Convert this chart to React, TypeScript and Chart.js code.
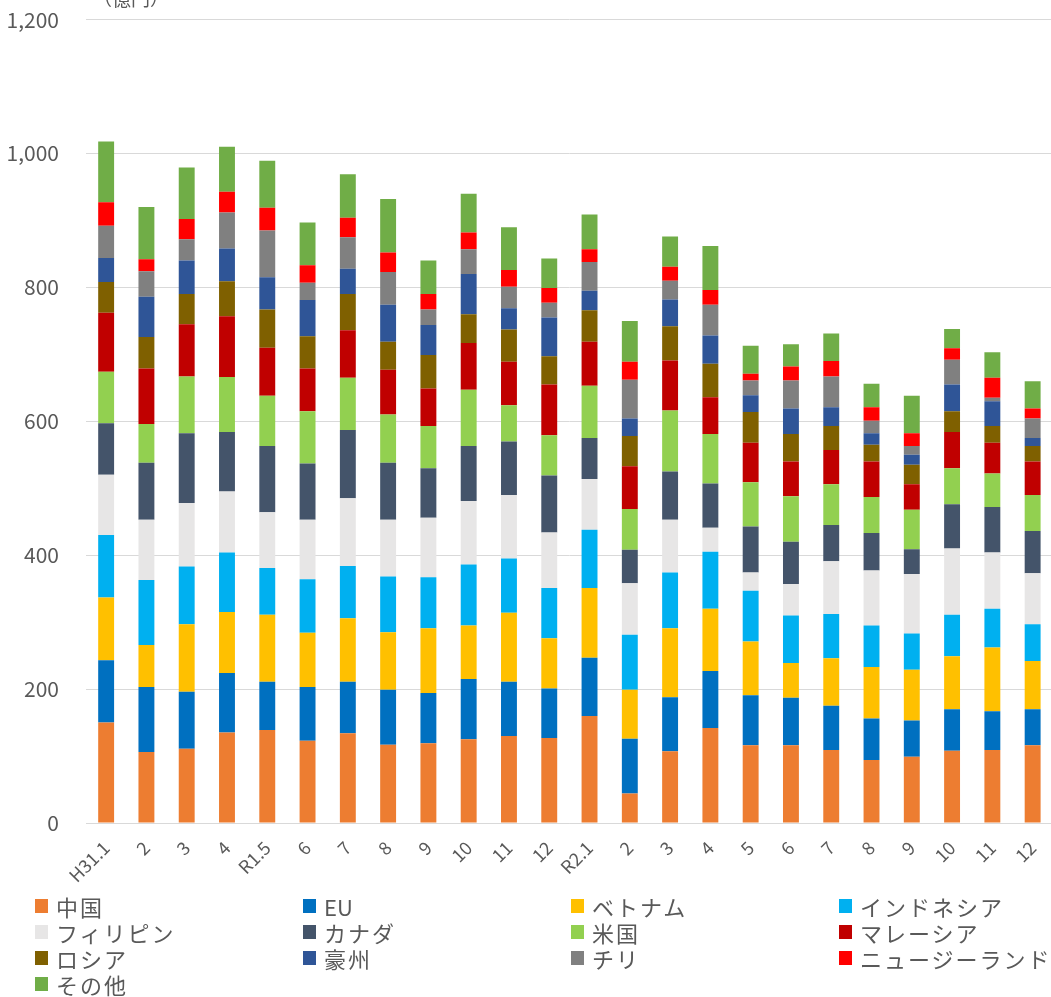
import React, { useEffect, useRef } from "react";
import { Chart, registerables } from "chart.js";

Chart.register(...registerables);

const categories = ["H31.1","2","3","4","R1.5","6","7","8","9","10","11","12","R2.1","2","3","4","5","6","7","8","9","10","11","12"];

const china = [150,106,111,135,139,123,134,117,119,125,130,127,160,44,107,142,116,116,109,94,99,108,109,116];
const eu = [93,97,85,89,72,80,77,82,75,90,81,74,87,82,81,85,75,71,66,62,54,62,58,54];
const vietnam = [94,63,101,91,100,81,95,86,97,80,103,75,104,73,103,93,80,52,71,77,76,79,95,72];
const indonesia = [93,97,86,89,70,80,78,83,76,91,81,75,87,82,83,85,76,71,66,62,54,62,58,55];
const philippines = [90,90,95,91,83,89,101,85,89,95,95,83,76,77,79,36,27,47,79,82,89,99,84,76];
const canada = [77,85,104,89,99,84,102,85,74,82,80,85,61,50,72,66,69,63,54,56,37,66,68,63];
const usa = [77,58,85,82,75,78,78,72,63,84,54,60,78,61,91,74,66,68,61,54,59,54,50,54];
const malaysia = [88,83,78,91,72,64,71,67,56,70,65,76,66,64,75,55,59,52,51,53,38,54,46,50];
const russia = [46,47,45,52,57,48,54,42,50,43,48,42,47,45,51,50,46,41,36,25,29,31,25,23];
const australia = [36,60,50,49,48,54,38,55,45,60,32,58,29,26,40,42,25,38,28,17,15,40,37,12];
const chile = [48,38,32,54,70,26,47,49,23,37,32,22,43,58,28,46,22,42,46,19,13,37,5,29];
const nz = [35,18,30,31,34,26,29,29,23,25,25,22,19,27,21,22,10,21,23,20,19,17,30,15];
const other = [91,78,77,67,70,64,65,80,50,58,64,44,52,61,45,66,42,33,41,35,56,29,38,41];

const seriesNames = ["中国","EU","ベトナム","インドネシア","フィリピン","カナダ","米国","マレーシア","ロシア","豪州","チリ","ニュージーランド","その他"];
const seriesColors = ["#ED7D31","#0070C0","#FFC000","#00B0F0","#E7E6E6","#44546A","#92D050","#C00000","#7F6000","#2F5597","#808080","#FF0000","#70AD47"];
const seriesData = [china, eu, vietnam, indonesia, philippines, canada, usa, malaysia, russia, australia, chile, nz, other];

const yTicksMax = 1200;
const yStep = 200;
const unitLabel = "（億円）";
const FONT = "'Noto Sans CJK JP', 'Noto Sans', sans-serif";
const TEXT = "#595959";
const SHIFT = 20;

export default function App() {
  const ref = useRef<HTMLCanvasElement | null>(null);

  useEffect(() => {
    document.documentElement.style.overflow = "hidden";
    document.body.style.overflow = "hidden";
    if (!ref.current) return;
    const unitPlugin = {
      id: "unitLabel",
      afterDraw(chart: any) {
        const ctx = chart.ctx;
        ctx.save();
        ctx.font = `19px ${FONT}`;
        ctx.fillStyle = TEXT;
        ctx.textBaseline = "bottom";
        ctx.textAlign = "left";
        ctx.fillText(unitLabel, 93, 8 + SHIFT);
        ctx.restore();
      },
    };
    const chart = new Chart(ref.current, {
      type: "bar",
      data: {
        labels: categories,
        datasets: seriesNames.map((n, i) => ({
          label: n,
          data: seriesData[i],
          backgroundColor: seriesColors[i],
          borderWidth: 0,
          categoryPercentage: 1,
          barPercentage: 0.395,
        })),
      },
      options: {
        animation: false,
        responsive: false,
        layout: { padding: { left: 6, top: 2, right: 4, bottom: 0 } },
        plugins: { legend: { display: false }, tooltip: { enabled: false } },
        scales: {
          x: {
            stacked: true,
            grid: { display: false, drawTicks: false },
            border: { display: true, color: "#D9D9D9", width: 1 },
            ticks: {
              color: TEXT,
              font: { size: 18, family: FONT },
              minRotation: 45,
              maxRotation: 45,
              padding: 14,
              autoSkip: false,
            },
            afterFit: (s: any) => { s.height = 72; },
          },
          y: {
            stacked: true,
            min: 0,
            max: yTicksMax,
            grid: { color: "#D9D9D9", drawTicks: false },
            border: { display: false },
            ticks: {
              stepSize: yStep,
              color: TEXT,
              font: { size: 21, family: FONT },
              padding: 27,
              callback: (v: any) => Number(v).toLocaleString("en-US"),
            },
            afterFit: (s: any) => { s.width = 80; },
          },
        },
      },
      plugins: [unitPlugin],
    });
    return () => chart.destroy();
  }, []);

  return (
    <div style={{ position: "absolute", left: 0, top: 0, width: 1062, height: 997, overflow: "hidden", fontFamily: FONT }}>
      <canvas ref={ref} width={1062} height={895 + SHIFT} style={{ position: "absolute", left: 0, top: -SHIFT }} />
      <div
        style={{
          position: "absolute",
          left: 35,
          top: 893,
          display: "grid",
          gridTemplateColumns: "repeat(4, 268px)",
          gridAutoRows: "26px",
          alignItems: "center",
        }}
      >
        {seriesNames.map((n, i) => (
          <div key={n} style={{ display: "flex", alignItems: "center", height: 26 }}>
            <span style={{ display: "inline-block", width: 13, height: 14, background: seriesColors[i], marginRight: 8 }} />
            <span style={{ fontSize: 22, color: TEXT, lineHeight: "26px", letterSpacing: /^[A-Za-z]+$/.test(n) ? 0 : 2, whiteSpace: "nowrap" }}>{n}</span>
          </div>
        ))}
      </div>
    </div>
  );
}
